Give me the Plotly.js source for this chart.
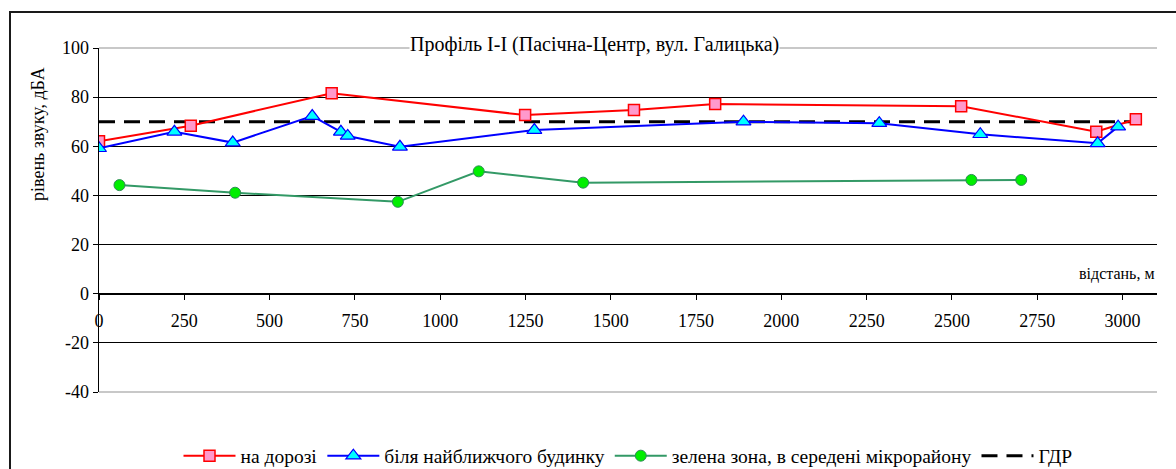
<!DOCTYPE html>
<html>
<head>
<meta charset="utf-8">
<script src="https://cdn.plot.ly/plotly-3.0.1.min.js"></script>
<style>
  html, body { margin: 0; padding: 0; background: #fff; overflow: hidden; }
  #wrap { position: relative; width: 1176px; height: 469px; }
  #frame { position: absolute; left: 9px; top: 11px; width: 1300px; height: 600px; border: 2px solid #1a1a1a; pointer-events: none; }
  #chart { position: absolute; left: 0; top: 0; width: 1176px; height: 469px; }
</style>
</head>
<body>
<div id="wrap">
  <div id="chart"></div>
  <div id="frame"></div>
</div>
<script>
// --- data ---
const roadX   = [0, 269, 682, 1249, 1568, 1806, 2527, 2923, 3039];
const roadY   = [62, 68.4, 81.6, 72.7, 74.8, 77.2, 76.3, 65.9, 71.0];

const houseX  = [0, 221, 392, 625, 709, 729, 882, 1276, 1889, 2287, 2583, 2927, 2987];
const houseY  = [59.2, 65.9, 61.5, 72.3, 65.9, 64.2, 59.8, 66.6, 70.0, 69.4, 64.9, 61.2, 68.0];

const greenX  = [60, 399, 876, 1113, 1419, 2557, 2703];
const greenY  = [44.2, 41.1, 37.4, 49.8, 45.2, 46.3, 46.3];

const limitX  = [0, 3039];
const limitY  = [70, 70];

const yTickVals = [-40, -20, 0, 20, 40, 60, 80, 100];
const yTickText = ['-40', '-20', '0', '20', '40', '60', '80', '100'];

const seriesNames = ['на дорозі', 'біля найближчого будинку', 'зелена зона, в середені мікрорайону', 'ГДР'];
const chartTitle = 'Профіль I-I (Пасічна-Центр, вул. Галицька)';
const xTitle = 'відстань, м';
const yTitle = 'рівень звуку, дБА';

const FONT = '"Liberation Serif", "Times New Roman", serif';

const traces = [
  { x: limitX, y: limitY, name: seriesNames[3], type: 'scatter', mode: 'lines', legendrank: 4,
    line: { color: '#000000', width: 3, dash: '16px,9px' } },
  { x: roadX, y: roadY, name: seriesNames[0], type: 'scatter', mode: 'lines+markers', legendrank: 1,
    line: { color: '#ff0000', width: 2 },
    marker: { symbol: 'square', size: 11, color: '#ff99cc', line: { color: '#ff0000', width: 1.5 } } },
  { x: houseX, y: houseY, name: seriesNames[1], type: 'scatter', mode: 'lines+markers', legendrank: 2,
    line: { color: '#0000ff', width: 2 },
    marker: { symbol: 'triangle-up', size: 13, color: '#00ffff', line: { color: '#0000ff', width: 1.2 } } },
  { x: greenX, y: greenY, name: seriesNames[2], type: 'scatter', mode: 'lines+markers', legendrank: 3,
    line: { color: '#339966', width: 2 },
    marker: { symbol: 'circle', size: 11, color: '#00ee00', line: { color: '#2e8b57', width: 1 } } }
];

const layout = {
  width: 1176, height: 469,
  margin: { l: 99, r: 19, t: 48, b: 77, pad: 0, autoexpand: false },
  paper_bgcolor: '#ffffff', plot_bgcolor: '#ffffff',
  font: { family: FONT, size: 18, color: '#000' },
  showlegend: true,
  legend: { orientation: 'h', x: 0.5, xanchor: 'center', y: (392 - 456) / 344, yanchor: 'middle',
            font: { family: FONT, size: 19.5, color: '#000' }, itemwidth: 52,
            bgcolor: 'rgba(0,0,0,0)' },
  xaxis: {
    range: [0, 3101], dtick: 250, tick0: 0,
    anchor: 'free', position: 40 / 140,
    showline: true, linecolor: '#000', linewidth: 1.5,
    ticks: 'outside', ticklen: 5, tickcolor: '#000', tickwidth: 1,
    showgrid: false, zeroline: false,
    tickfont: { family: FONT, size: 18, color: '#000' },
    ticklabelstandoff: 5
  },
  yaxis: {
    range: [-40, 100], tickmode: 'array', tickvals: yTickVals, ticktext: yTickText,
    showline: true, linecolor: '#000', linewidth: 1.5,
    ticks: 'outside', ticklen: 5, tickcolor: '#000',
    showgrid: true, gridcolor: '#000', gridwidth: 1,
    zeroline: true, zerolinecolor: '#000', zerolinewidth: 1.5,
    tickfont: { family: FONT, size: 18, color: '#000' }
  },
  shapes: [
    { type: 'line', xref: 'paper', yref: 'paper', x0: 0, x1: 1, y0: 1, y1: 1, line: { color: '#c8c8c8', width: 2 }, layer: 'above' },
    { type: 'line', xref: 'paper', yref: 'paper', x0: 0, x1: 1, y0: 0, y1: 0, line: { color: '#c8c8c8', width: 2 }, layer: 'above' }
  ],
  annotations: [
    { text: chartTitle, xref: 'paper', yref: 'paper', x: (594 - 99) / 1058, y: (392 - 45) / 344,
      xanchor: 'center', yanchor: 'middle', showarrow: false, bgcolor: '#ffffff', borderpad: 0,
      font: { family: FONT, size: 20, color: '#000' } },
    { text: xTitle, xref: 'paper', yref: 'paper', x: 1, y: (392 - 274) / 344,
      xanchor: 'right', yanchor: 'middle', showarrow: false,
      font: { family: FONT, size: 16, color: '#000' } },
    { text: yTitle, xref: 'paper', yref: 'paper', x: (38 - 99) / 1058, y: (392 - 134) / 344,
      xanchor: 'center', yanchor: 'middle', showarrow: false, textangle: -90,
      font: { family: FONT, size: 18, color: '#000' } }
  ]
};

Plotly.newPlot('chart', traces, layout, { displayModeBar: false, staticPlot: true });
</script>
</body>
</html>
